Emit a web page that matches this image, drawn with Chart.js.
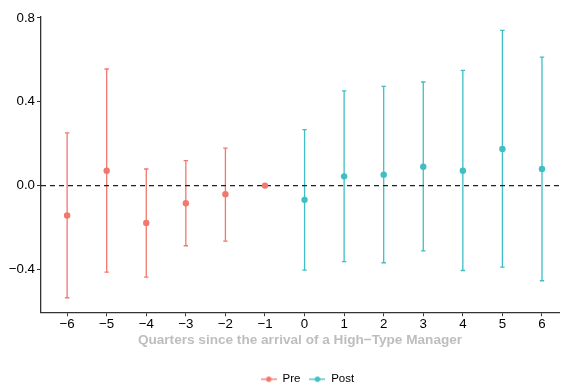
<!DOCTYPE html>
<html>
<head>
<meta charset="utf-8">
<script src="https://cdn.jsdelivr.net/npm/chart.js@4/dist/chart.umd.min.js"></script>
<style>
html,body{margin:0;padding:0;background:#fff;}
#wrap{width:563px;height:384px;position:relative;}
</style>
</head>
<body>
<div id="wrap"><canvas id="c" width="563" height="384"></canvas></div>
<script>
// Data
const preQuarters = [-6, -5, -4, -3, -2, -1];
const preEst      = [-0.143, 0.071, -0.178, -0.084, -0.041, 0.0];
const preLow      = [-0.535, -0.413, -0.437, -0.287, -0.265, 0.0];
const preHigh     = [0.251, 0.556, 0.079, 0.119, 0.179, 0.0];

const postQuarters = [0, 1, 2, 3, 4, 5, 6];
const postEst      = [-0.068, 0.044, 0.052, 0.090, 0.071, 0.175, 0.079];
const postLow      = [-0.403, -0.363, -0.368, -0.311, -0.405, -0.389, -0.454];
const postHigh     = [0.267, 0.452, 0.473, 0.494, 0.549, 0.740, 0.613];

const yTickValues = [-0.4, 0.0, 0.4, 0.8];
const xTickValues = [-6, -5, -4, -3, -2, -1, 0, 1, 2, 3, 4, 5, 6];
const seriesNames = ['Pre', 'Post'];
const xTitle = 'Quarters since the arrival of a High\u2212Type Manager';

const PRE_COLOR = '#F1786E';
const POST_COLOR = '#3FBFC5';
const FONT = '"Liberation Sans", Arial, Helvetica, sans-serif';

function legendIcon(color) {
  const cv = document.createElement('canvas');
  cv.width = 16; cv.height = 8;
  const g = cv.getContext('2d');
  g.strokeStyle = color; g.lineWidth = 1.3;
  g.beginPath(); g.moveTo(0, 4); g.lineTo(16, 4); g.stroke();
  g.fillStyle = color;
  g.beginPath(); g.arc(8, 4, 2.7, 0, Math.PI * 2); g.fill();
  return cv;
}

function toPoints(xs, ys) { return xs.map((x, i) => ({x: x, y: ys[i]})); }

const errorBarPlugin = {
  id: 'errorBars',
  afterLayout(chart) {
    // centre the legend under the panel as in the reference
    if (chart.legend) { chart.legend.left += 52; }
  },
  beforeDatasetsDraw(chart) {
    const ctx = chart.ctx;
    const xs = chart.scales.x, ys = chart.scales.y;
    const area = chart.chartArea;
    const groups = [
      {q: preQuarters, lo: preLow, hi: preHigh, c: PRE_COLOR},
      {q: postQuarters, lo: postLow, hi: postHigh, c: POST_COLOR}
    ];
    ctx.save();
    groups.forEach(g => {
      ctx.strokeStyle = g.c;
      ctx.lineWidth = 1.3;
      g.q.forEach((q, i) => {
        if (g.lo[i] === g.hi[i]) return;
        const px = xs.getPixelForValue(q);
        const y1 = ys.getPixelForValue(g.lo[i]);
        const y2 = ys.getPixelForValue(g.hi[i]);
        const cw = 2.2;
        ctx.beginPath();
        ctx.moveTo(px, y1); ctx.lineTo(px, y2);
        ctx.moveTo(px - cw, y1); ctx.lineTo(px + cw, y1);
        ctx.moveTo(px - cw, y2); ctx.lineTo(px + cw, y2);
        ctx.stroke();
      });
    });
    // dashed zero line
    const y0 = ys.getPixelForValue(0);
    ctx.strokeStyle = '#222';
    ctx.lineWidth = 1.3;
    ctx.setLineDash([5, 4]);
    ctx.beginPath();
    ctx.moveTo(area.left, y0); ctx.lineTo(chart.width, y0);
    ctx.stroke();
    ctx.restore();
  }
};

Chart.defaults.font.family = FONT;

new Chart(document.getElementById('c'), {
  type: 'scatter',
  data: {
    datasets: [
      {
        label: seriesNames[0],
        data: toPoints(preQuarters, preEst),
        backgroundColor: PRE_COLOR, borderColor: PRE_COLOR,
        pointRadius: 3.2, pointBorderWidth: 0, pointStyle: 'circle'
      },
      {
        label: seriesNames[1],
        data: toPoints(postQuarters, postEst),
        backgroundColor: POST_COLOR, borderColor: POST_COLOR,
        pointRadius: 3.2, pointBorderWidth: 0, pointStyle: 'circle'
      }
    ]
  },
  options: {
    responsive: false,
    animation: false,
    layout: { padding: { top: 17, right: 0, left: 0, bottom: -11 } },
    plugins: {
      tooltip: { enabled: false },
      legend: {
        position: 'bottom',
        labels: {
          usePointStyle: true,
          pointStyleWidth: 16,
          boxHeight: 8,
          color: '#000',
          font: { size: 11.5, family: FONT },
          padding: 9,
          generateLabels(chart) {
            return chart.data.datasets.map((d, i) => ({
              text: d.label,
              pointStyle: legendIcon(d.backgroundColor),
              fillStyle: d.backgroundColor,
              strokeStyle: d.backgroundColor,
              lineWidth: 0,
              fontColor: '#000',
              datasetIndex: i,
              hidden: false
            }));
          }
        }
      }
    },
    scales: {
      x: {
        type: 'linear',
        min: -6.66, max: 6.43,
        afterBuildTicks(scale) { scale.ticks = xTickValues.map(v => ({value: v})); },
        afterFit(scale) { scale.paddingRight = 0; scale.paddingLeft = 0; },
        ticks: {
          color: '#000',
          font: { size: 13.3, family: FONT },
          padding: 0,
          maxRotation: 0,
          autoSkip: false,
          callback: v => String(v).replace('-', '\u2212')
        },
        grid: {
          drawOnChartArea: false,
          drawTicks: true,
          tickLength: 4,
          color: '#333',
          lineWidth: 1
        },
        border: { display: true, color: '#333', width: 1.3 },
        title: {
          display: true,
          text: xTitle,
          color: '#BEBEBE',
          font: { size: 13.6, weight: 'bold', family: FONT },
          padding: { top: 0, bottom: 16 }
        }
      },
      y: {
        type: 'linear',
        min: -0.604, max: 0.804,
        afterBuildTicks(scale) { scale.ticks = yTickValues.map(v => ({value: v})); },
        afterFit(scale) { scale.width = 41; },
        ticks: {
          color: '#000',
          font: { size: 13.3, family: FONT },
          padding: 2,
          callback: v => (v < 0 ? '\u2212' : '') + Math.abs(v).toFixed(1)
        },
        grid: {
          drawOnChartArea: false,
          drawTicks: true,
          tickLength: 4,
          color: '#333',
          lineWidth: 1
        },
        border: { display: true, color: '#333', width: 1.3 }
      }
    }
  },
  plugins: [errorBarPlugin]
});
</script>
</body>
</html>
